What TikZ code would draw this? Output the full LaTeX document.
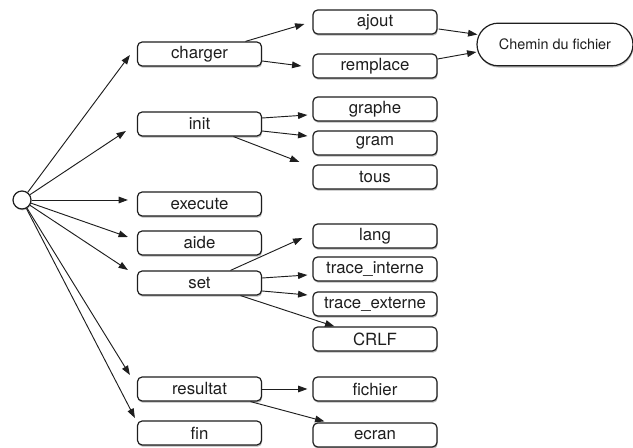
\documentclass[tikz,border=0pt]{standalone}
\usepackage{fontspec}
\setmainfont{TeX Gyre Heros}
\usetikzlibrary{arrows.meta,calc,shadows,shapes.misc}
\definecolor{ink}{HTML}{1E1E1E}
\definecolor{shade}{HTML}{8A8A8A}
\newcommand{\lbl}{\fontsize{12.6}{15}\selectfont}
\newcommand{\pathlbl}{\fontsize{10.8}{13}\selectfont}
\tikzset{
  cmdbox/.style={draw=ink,line width=0.9pt,fill=white,rounded corners=3.5pt,
    minimum width=93pt,minimum height=18pt,inner sep=0,font=\lbl,text=ink,
    drop shadow={shadow xshift=0.5pt,shadow yshift=-1.3pt,fill=shade,opacity=0.6}},
  pathbox/.style={draw=ink,line width=0.9pt,fill=white,rounded rectangle,
    minimum width=117pt,minimum height=32pt,inner sep=0,font=\pathlbl,text=ink,
    drop shadow={shadow xshift=0.5pt,shadow yshift=-1.3pt,fill=shade,opacity=0.6}},
  hubdot/.style={draw=ink,line width=0.9pt,fill=white,circle,minimum size=13.5pt,inner sep=0,
    drop shadow={shadow xshift=0.4pt,shadow yshift=-1pt,fill=shade,opacity=0.5}},
  link/.style={ink,line width=0.7pt,-{Triangle[length=7pt,width=5pt]}}
}
\begin{document}
\begin{tikzpicture}[x=0.75pt,y=-0.75pt]
\useasboundingbox (0,0) rectangle (633,448);
% racine
\node[hubdot] (hub) at (22,200) {};
% commandes
\node[cmdbox] (charger) at (199.5,54) {charger};
\node[cmdbox] (init) at (199.5,124) {init};
\node[cmdbox] (execute) at (199.5,204) {execute};
\node[cmdbox] (aide) at (199.5,243) {aide};
\node[cmdbox] (set) at (199.5,283) {set};
\node[cmdbox] (resultat) at (199.5,389) {resultat};
\node[cmdbox] (fin) at (199.5,433) {fin};
% options
\node[cmdbox] (ajout) at (375,22) {ajout};
\node[cmdbox] (remplace) at (375,66) {remplace};
\node[cmdbox] (graphe) at (375,109) {graphe};
\node[cmdbox] (gram) at (375,143) {gram};
\node[cmdbox] (tous) at (375,177) {tous};
\node[cmdbox] (lang) at (375,236) {lang};
\node[cmdbox] (traceint) at (375,269) {trace\_interne};
\node[cmdbox] (traceext) at (375,304) {trace\_externe};
\node[cmdbox] (crlf) at (375,339) {CRLF};
\node[cmdbox] (fichier) at (375,389) {fichier};
\node[cmdbox] (ecran) at (375,435) {ecran};
\node[pathbox] (chemin) at (555,44.5) {Chemin du fichier};
% racine vers commandes
\draw[link] (hub) -- ($(charger.west)+(-7,1)$);
\draw[link] (hub) -- ($(init.west)+(-11,7)$);
\draw[link] (hub) -- ($(execute.west)+(-9,-4)$);
\draw[link] (hub) -- ($(aide.west)+(-9,-6)$);
\draw[link] (hub) -- ($(set.west)+(-9,-13)$);
\draw[link] (hub) -- ($(resultat.west)+(-7,-14)$);
\draw[link] (hub) -- ($(fin.west)+(-2,-15)$);
% commandes vers options
\draw[link] ($(charger.north)+(46,0)$) -- ($(ajout.west)+(-8,2)$);
\draw[link] ($(charger.east)+(0,7)$) -- ($(remplace.west)+(-11,0)$);
\draw[link] ($(ajout.east)+(1,7)$) -- ($(chemin.west)+(1,-10)$);
\draw[link] ($(remplace.east)+(0,-7)$) -- ($(chemin.west)+(0,7.5)$);
\draw[link] ($(init.east)+(0,-6)$) -- ($(graphe.west)+(-5,6)$);
\draw[link] ($(init.east)+(0,7)$) -- ($(gram.west)+(-5,-7)$);
\draw[link] ($(init.south)+(34,0)$) -- ($(tous.west)+(-13,-15)$);
\draw[link] ($(set.north)+(31,0)$) -- ($(lang.west)+(-10,2)$);
\draw[link] ($(set.east)+(0,-5)$) -- ($(traceint.west)+(-5,6)$);
\draw[link] ($(set.east)+(0,8)$) -- ($(traceext.west)+(-5,-9)$);
\draw[link] ($(set.south)+(41,0)$) -- ($(crlf.north west)+(22,0)$);
\draw[link] (resultat.east) -- ($(fichier.west)+(-5,0)$);
\draw[link] ($(resultat.south)+(51,0)$) -- ($(ecran.north west)+(12,-1)$);
\end{tikzpicture}
\end{document}
